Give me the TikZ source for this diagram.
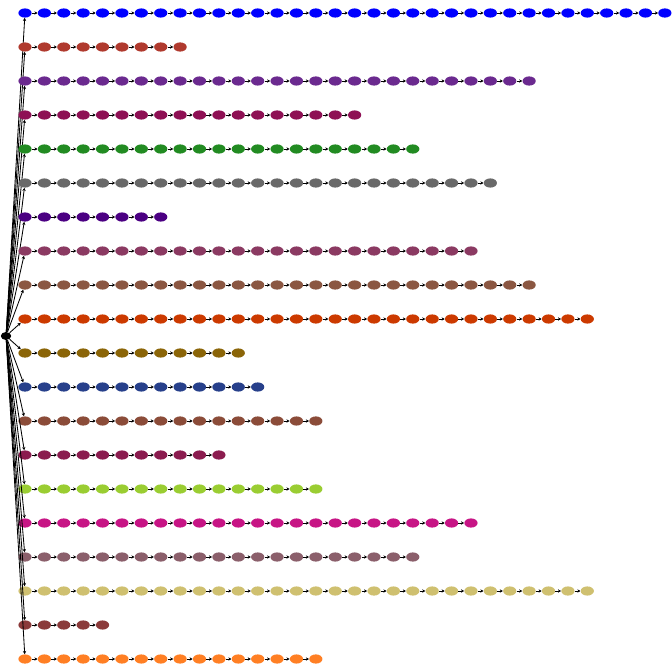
\documentclass[tikz,border=0pt]{standalone}
\usetikzlibrary{arrows.meta,shapes.geometric}

% row colours
\definecolor{rowA}{HTML}{0000FF}
\definecolor{rowB}{HTML}{B03A2E}
\definecolor{rowC}{HTML}{6B2A8F}
\definecolor{rowD}{HTML}{8E1054}
\definecolor{rowE}{HTML}{228B22}
\definecolor{rowF}{HTML}{696969}
\definecolor{rowG}{HTML}{4B0082}
\definecolor{rowH}{HTML}{8B3A62}
\definecolor{rowI}{HTML}{8B5742}
\definecolor{rowJ}{HTML}{CC3A00}
\definecolor{rowK}{HTML}{8B6508}
\definecolor{rowL}{HTML}{27408B}
\definecolor{rowM}{HTML}{8B4C39}
\definecolor{rowN}{HTML}{8B1C4F}
\definecolor{rowO}{HTML}{9ACD32}
\definecolor{rowP}{HTML}{C71585}
\definecolor{rowQ}{HTML}{8B5F6B}
\definecolor{rowR}{HTML}{CFC070}
\definecolor{rowS}{HTML}{8B3A3A}
\definecolor{rowT}{HTML}{FF7F24}

\begin{document}
\begin{tikzpicture}[x=0.025cm, y=-0.025cm]
  \tikzstyle{leaf} = [ellipse, draw=none, inner sep=0pt, minimum width=0.33cm, minimum height=0.23cm]
  \tikzstyle{link} = [line width=0.6pt, -{Stealth[length=2.2pt,width=2.4pt]}]

  \useasboundingbox (0,0) rectangle (672,672);

  % Root
  \node [leaf, fill=black, minimum width=0.26cm, minimum height=0.2cm] (root) at (6,336) {};

  % Chains, one per row
  \foreach \n/\c [count=\r from 0] in {34/rowA, 9/rowB, 27/rowC, 18/rowD, 21/rowE,
      25/rowF, 8/rowG, 24/rowH, 27/rowI, 30/rowJ, 12/rowK, 13/rowL, 16/rowM,
      11/rowN, 16/rowO, 24/rowP, 21/rowQ, 30/rowR, 5/rowS, 16/rowT} {
    \foreach \k in {1,...,\n} {
      \node [leaf, fill=\c] (r\r-\k) at ({25+19.39*(\k-1)}, {13+34*\r}) {};
    }
    \draw [link] (root) -- (r\r-1);
    \foreach \k [remember=\k as \p (initially 1)] in {2,...,\n} {
      \draw [link] (r\r-\p) -- (r\r-\k);
    }
  }

\end{tikzpicture}
\end{document}
